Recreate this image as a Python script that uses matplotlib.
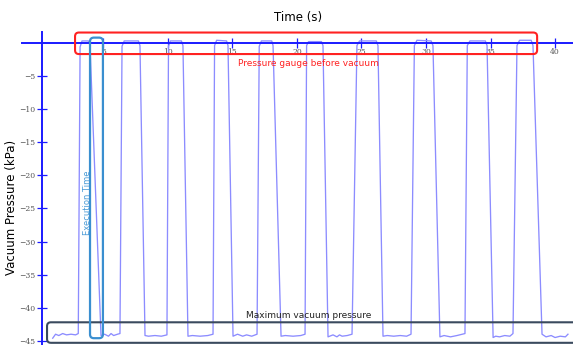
import matplotlib
matplotlib.use("Agg")
import matplotlib.pyplot as plt
from matplotlib.patches import FancyBboxPatch

plt.rcParams.update({"font.family": "DejaVu Sans"})

# pressure trace (time s, vacuum kPa)
time_s = [
    1.08, 1.3, 1.55, 1.85, 2.15, 2.5, 2.85, 3.06,
    3.2, 3.35, 3.85, 3.97,
    4.82, 5.1, 5.4, 5.6, 5.8, 6.1, 6.29,
    6.45, 6.62, 7.72, 7.84,
    8.23, 8.5, 9.0, 9.5, 9.93,
    10.05, 10.2, 11.05, 11.17,
    11.56, 11.9, 12.5, 13.1, 13.5,
    13.62, 13.78, 14.55, 14.66,
    15.05, 15.4, 15.8, 16.1, 16.5, 16.91,
    17.08, 17.25, 18.05, 18.15,
    18.77, 19.1, 19.7, 20.3, 20.63,
    20.75, 20.9, 21.9, 22.02,
    22.41, 22.8, 23.1, 23.3, 23.5, 23.9, 24.27,
    24.65, 24.85, 26.15, 26.28,
    26.67, 27.0, 27.5, 28.0, 28.5, 28.84,
    29.1, 29.3, 30.4, 30.54,
    31.08, 31.4, 31.9, 32.4, 33.02,
    33.2, 33.4, 34.6, 34.73,
    35.2, 35.4, 35.7, 36.1, 36.5, 36.74,
    37.05, 37.25, 38.15, 38.29,
    38.99, 39.3, 39.7, 40.0, 40.4, 40.8, 41.0,
]
pressure = [
    -44.6, -44.0, -44.2, -43.9, -44.1, -44.0, -44.1, -43.9,
    -0.6, 0.3, 0.3, -0.4,
    -44.2, -44.0, -44.3, -43.9, -44.2, -44.0, -43.9,
    -0.5, 0.3, 0.3, -0.4,
    -44.2, -44.3, -44.2, -44.3, -44.1,
    -0.5, 0.3, 0.3, -0.4,
    -44.3, -44.2, -44.3, -44.2, -44.0,
    -0.4, 0.4, 0.3, -0.4,
    -44.3, -44.0, -44.3, -44.1, -44.3, -44.0,
    -0.5, 0.3, 0.3, -0.4,
    -44.3, -44.2, -44.3, -44.2, -44.0,
    -0.4, 0.2, 0.2, -0.4,
    -44.4, -44.1, -44.4, -44.1, -44.3, -44.2, -44.0,
    -0.4, 0.3, 0.3, -0.4,
    -44.3, -44.2, -44.3, -44.2, -44.3, -44.0,
    -0.4, 0.4, 0.3, -0.4,
    -44.4, -44.2, -44.4, -44.2, -43.9,
    -0.4, 0.3, 0.3, -0.4,
    -44.5, -44.3, -44.4, -44.2, -44.3, -43.9,
    -0.4, 0.4, 0.4, -0.4,
    -44.0, -44.4, -44.2, -44.5, -44.3, -44.4, -44.0,
]
x_ticks = [5, 10, 15, 20, 25, 30, 35, 40]
y_ticks = [-5, -10, -15, -20, -25, -30, -35, -40, -45]

fig = plt.figure(figsize=(5.73, 3.45), dpi=100)
ax = fig.add_axes([22 / 573, 0, 1 - 22 / 573, 1 - 32 / 345])
ax.plot(time_s, pressure, color="#8c8cff", lw=0.95)
ax.set_xlim(-1.30, 41.39)
ax.set_ylim(-45.63, 1.65)

spine_c = "#1a1aff"
for s in ("top", "right"):
    ax.spines[s].set_visible(False)
ax.spines["bottom"].set_position(("data", 0))
ax.spines["left"].set_position(("axes", 0.0358))
for s in ("bottom", "left"):
    ax.spines[s].set_color(spine_c)
    ax.spines[s].set_linewidth(1.4)
ax.set_xticks(x_ticks)
ax.set_yticks(y_ticks)
ax.tick_params(axis="both", direction="inout", length=7, width=0.9, color=spine_c,
               labelsize=5.5, labelcolor="#555555", pad=1)
ax.tick_params(axis="x", pad=0)
for lab in ax.get_xticklabels() + ax.get_yticklabels():
    lab.set_family("DejaVu Serif")

fig.text(298 / 573, 1 - 18 / 345, "Time (s)", ha="center", va="center", fontsize=8.5)
fig.text(12 / 573, 1 - 207 / 345, "Vacuum Pressure (kPa)", rotation=90,
         ha="center", va="center", fontsize=8.5)

asp = 12.9 / 6.62
boxes = [
    ((2.81, -1.68), 35.8, 3.25, "#ff2222", 1.5),
    ((0.64, -45.3), 42.0, 3.1, "#3a4a5e", 1.5),
    ((3.97, -44.6), 1.0, 45.4, "#3a8fd0", 1.6),
]
for (x0, y0), w, h, c, lw in boxes:
    ax.add_patch(FancyBboxPatch((x0, y0), w, h, boxstyle="round,pad=0,rounding_size=0.3",
                                mutation_aspect=asp, fill=False, ec=c, lw=lw,
                                clip_on=False, zorder=3))

ax.text(20.9, -3.1, "Pressure gauge before vacuum", color="#ff2222", fontsize=6.5,
        ha="center", va="center")
ax.text(20.9, -41.1, "Maximum vacuum pressure", color="#222222", fontsize=6.5,
        ha="center", va="center")
ax.text(3.74, -24.2, "Execution Time", color="#4a9bd6", fontsize=6, rotation=90,
        ha="center", va="center")

fig.savefig("out.png")
